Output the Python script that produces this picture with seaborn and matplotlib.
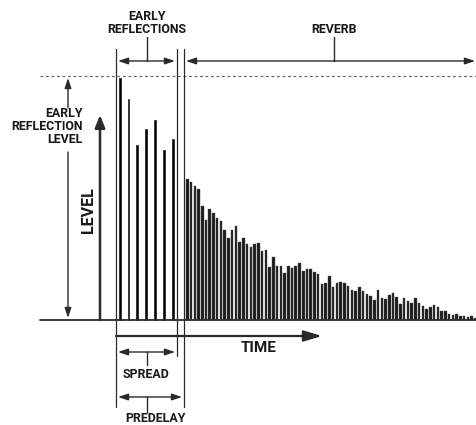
# Reverb diagram: early reflections + reverb tail
import numpy as np
import pandas as pd
import matplotlib.pyplot as plt
import seaborn as sns

# ---- data (x in diagram units, level above the baseline) ----
er_time = [120, 128.5, 137, 146, 155, 164, 173]
er_level = [242, 221, 175, 191, 200, 170, 181]

rev_level = [141, 138, 134, 131, 114, 100, 111, 107, 102, 99,
             90, 82, 90, 94, 78, 82, 76, 73, 76, 77,
             69, 70, 53, 63, 54, 54, 47, 54, 52, 54,
             57, 49, 51, 51, 48, 46, 36, 37, 44, 33,
             37, 38, 37, 34, 30, 29, 33, 29, 26, 24,
             20, 30, 22, 21, 25, 27, 23, 16, 22, 19,
             17, 22, 17, 14, 11, 13, 15, 13, 9, 9,
             6, 5, 6, 4, 4, 3, 4, 2]
rev_start = 187.3
rev_step = 3.74

er_df = pd.DataFrame({"time": er_time, "level": er_level})
rev_df = pd.DataFrame({"time": rev_start + rev_step * np.arange(len(rev_level)),
                       "level": rev_level})

sns.set_style("white")
plt.rcParams["font.family"] = ["Roboto", "DejaVu Sans"]

fig = plt.figure(figsize=(4.76, 4.25), dpi=100)
ax = fig.add_axes([0, 0, 1, 1])

LC = "#2a2a2a"

# bars
sns.barplot(data=er_df, x="time", y="level", native_scale=True, orient="x",
            color="black", saturation=1, width=0.19, errorbar=None, ax=ax,
            edgecolor="black", linewidth=0.4)
sns.barplot(data=rev_df, x="time", y="level", native_scale=True, orient="x",
            color="#1c1c1c", saturation=1, width=0.68, errorbar=None, ax=ax,
            edgecolor="#555555", linewidth=0.3)

ax.set_xlim(0, 476)
ax.set_ylim(-105, 320)
ax.axis("off")

# baseline and dotted early reflection level
ax.plot([40, 476], [0, 0], color=LC, lw=1.3, zorder=1)
ax.plot([40, 476], [244, 244], color="#666666", lw=0.9, ls=(0, (2.2, 2.2)))

# vertical markers
ax.plot([116, 116], [271, -87], color=LC, lw=0.9)
ax.plot([177, 177], [271, -36], color=LC, lw=0.9)
ax.plot([184, 184], [271, -87], color=LC, lw=0.9)


def arrow(tail, tip, style="-|>", hl=0.6, hw=0.2, lw=1.0, color=LC):
    ax.annotate("", xy=tip, xytext=tail,
                arrowprops=dict(arrowstyle=f"{style},head_length={hl},head_width={hw}",
                                lw=lw, color=color, shrinkA=0, shrinkB=0,
                                mutation_scale=10))


# top: early reflections / reverb
arrow((118, 259), (175, 259), style="<|-|>")
ax.plot([147, 147], [259, 283], color=LC, lw=1.0)
arrow((334, 259), (186, 259))
arrow((334, 259), (475, 259))
ax.plot([334, 334], [259, 283], color=LC, lw=1.0)

lab = dict(fontsize=8.9, fontweight="bold", color="#1a1a1a", ha="center", va="center")
ax.text(147, 304, "EARLY", **lab)
ax.text(147, 291, "REFLECTIONS", **lab)
ax.text(334, 291, "REVERB", **lab)

# left: early reflection level
arrow((68, 212), (68, 242))
arrow((68, 168), (68, 2))
lab_r = dict(lab, ha="right")
ax.text(83, 207, "EARLY", **lab_r)
ax.text(83, 194, "REFLECTION", **lab_r)
ax.text(83, 181, "LEVEL", **lab_r)

# level arrow
arrow((100, 0), (100, 205), hl=0.75, hw=0.3, lw=1.8)
ax.text(89, 110, "LEVEL", fontsize=11.5, fontweight="bold", rotation=90,
        ha="center", va="center", color="#1a1a1a")

# time arrow
arrow((116, -16), (322, -16), hl=1.1, hw=0.33, lw=1.6)
ax.text(259, -28.5, "TIME", fontsize=11, fontweight="bold",
        ha="center", va="center", color="#1a1a1a")

# spread / predelay
arrow((147, -32), (118, -32))
arrow((147, -32), (175, -32))
ax.plot([147, 147], [-32, -45], color=LC, lw=1.0)
ax.text(146, -55, "SPREAD", **lab)

arrow((147, -77), (118, -77))
arrow((147, -77), (182, -77))
ax.plot([147, 147], [-77, -92], color=LC, lw=1.0)
ax.text(155, -98, "PREDELAY", **lab)

fig.savefig("out.png", dpi=100)
